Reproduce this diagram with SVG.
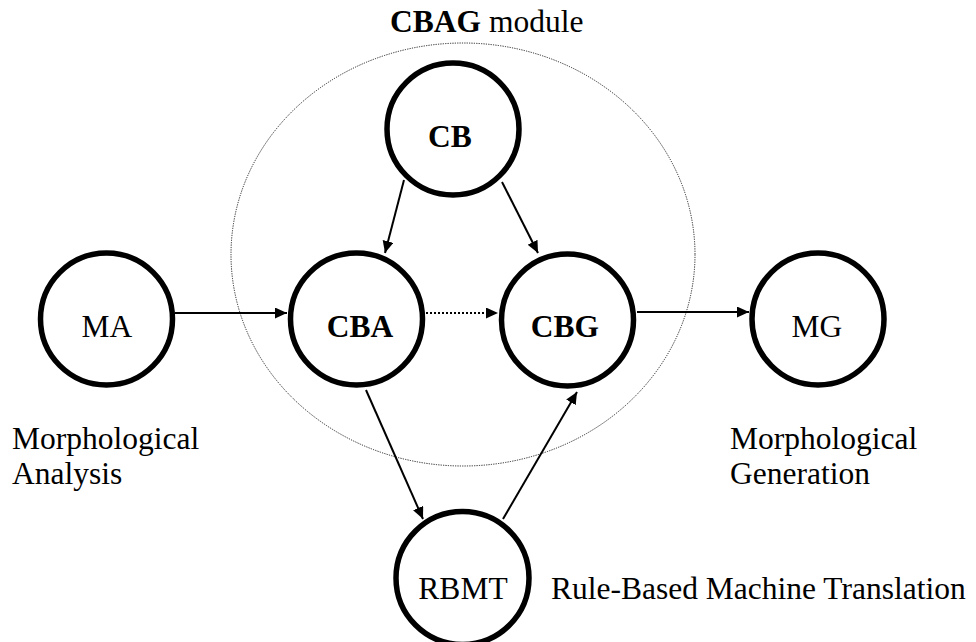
<svg xmlns="http://www.w3.org/2000/svg" width="976" height="642" viewBox="0 0 976 642">
<style>
  .node { fill: #fff; stroke: #000; stroke-width: 5.5; }
  .t { font-family: "Liberation Serif", "Times New Roman", serif; font-size: 31.5px; fill: #000; }
  .b { font-weight: bold; }
  .edge { stroke: #000; stroke-width: 2; fill: none; }
  .dot { stroke-dasharray: 2 2; }
  .module { fill: none; stroke: #222; stroke-width: 1; stroke-dasharray: 1.2 1.2; }
</style>
<defs>
  <marker id="ah" markerUnits="userSpaceOnUse" markerWidth="13" markerHeight="12" refX="12" refY="5.5" orient="auto">
    <path d="M0,0 L12,5.5 L0,11 z" fill="#000"/>
  </marker>
</defs>
<rect width="976" height="642" fill="#fff"/>
<g id="module">
  <ellipse class="module" cx="463" cy="254.5" rx="232" ry="211.5"/>
  <text class="t" x="390" y="32"><tspan class="b">CBAG</tspan> module</text>
</g>
<g id="connectors">
  <line class="edge" x1="175" y1="313" x2="287" y2="313" marker-end="url(#ah)"/>
  <line class="edge dot" x1="426" y1="313" x2="498" y2="313" marker-end="url(#ah)"/>
  <line class="edge" x1="637" y1="312" x2="749" y2="312" marker-end="url(#ah)"/>
  <line class="edge" x1="404" y1="180" x2="385" y2="253" marker-end="url(#ah)"/>
  <line class="edge" x1="502" y1="182" x2="538" y2="253" marker-end="url(#ah)"/>
  <line class="edge" x1="366" y1="390" x2="423" y2="519" marker-end="url(#ah)"/>
  <line class="edge" x1="503" y1="519" x2="577" y2="392" marker-end="url(#ah)"/>
</g>
<g id="MA">
  <circle class="node" cx="106.5" cy="319" r="66"/>
  <text class="t" x="107" y="337" text-anchor="middle">MA</text>
</g>
<g id="CB">
  <circle class="node" cx="453" cy="129" r="66"/>
  <text class="t b" x="450" y="147" text-anchor="middle">CB</text>
</g>
<g id="CBA">
  <circle class="node" cx="356.5" cy="319" r="66"/>
  <text class="t b" x="360" y="337" text-anchor="middle">CBA</text>
</g>
<g id="CBG">
  <circle class="node" cx="567.5" cy="320" r="66"/>
  <text class="t b" x="565" y="337" text-anchor="middle">CBG</text>
</g>
<g id="MG">
  <circle class="node" cx="818" cy="319" r="66"/>
  <text class="t" x="817" y="337" text-anchor="middle">MG</text>
</g>
<g id="RBMT">
  <circle class="node" cx="462.5" cy="578" r="66.5"/>
  <text class="t" x="463" y="599" text-anchor="middle">RBMT</text>
</g>
<g id="labels">
  <text class="t" x="12" y="449">Morphological</text>
  <text class="t" x="12" y="484">Analysis</text>
  <text class="t" x="730" y="449">Morphological</text>
  <text class="t" x="730" y="484">Generation</text>
  <text class="t" x="551" y="599">Rule-Based Machine Translation</text>
</g>
</svg>
